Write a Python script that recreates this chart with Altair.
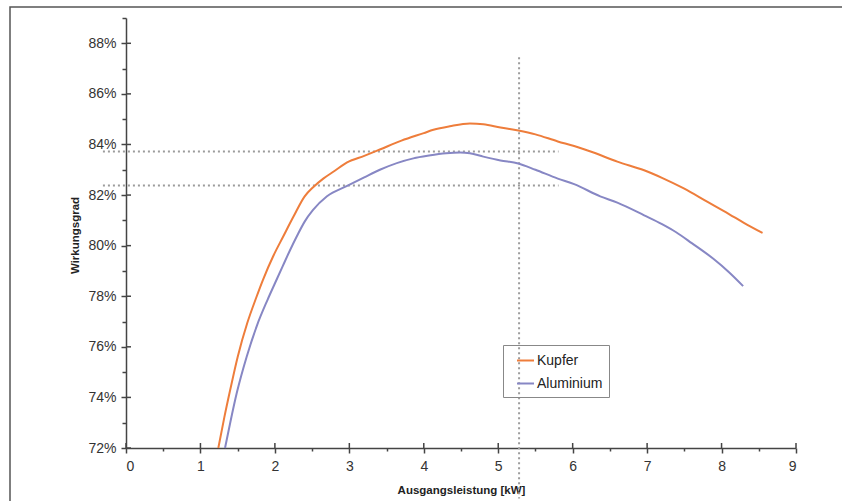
import altair as alt
import pandas as pd

# ---- data ----
kupfer_x = [1.24, 1.32, 1.40, 1.50, 1.63, 1.75, 1.84, 1.98, 2.11, 2.25, 2.40, 2.51, 2.65, 2.80,
            2.97, 3.20, 3.41, 3.70, 4.00, 4.13, 4.35, 4.62, 4.80, 5.03, 5.27, 5.50, 5.80, 6.02,
            6.28, 6.60, 6.96, 7.20, 7.50, 7.80, 8.10, 8.30, 8.55]
kupfer_y = [72.0, 73.2, 74.3, 75.6, 76.95, 77.95, 78.65, 79.6, 80.35, 81.15, 81.95, 82.3, 82.65, 82.95,
            83.29, 83.55, 83.80, 84.15, 84.45, 84.58, 84.72, 84.83, 84.80, 84.67, 84.55, 84.40, 84.12, 83.94,
            83.68, 83.32, 82.98, 82.68, 82.25, 81.75, 81.25, 80.90, 80.50]

alu_x = [1.33, 1.40, 1.49, 1.62, 1.76, 1.90, 2.03, 2.11, 2.20, 2.30, 2.40, 2.51, 2.70, 2.97,
         3.20, 3.41, 3.86, 4.07, 4.30, 4.49, 4.62, 4.80, 5.03, 5.27, 5.50, 5.80, 6.02, 6.37,
         6.60, 6.96, 7.20, 7.39, 7.60, 7.89, 8.10, 8.29]
alu_y = [72.0, 73.0, 74.2, 75.6, 76.85, 77.85, 78.7, 79.22, 79.8, 80.4, 80.95, 81.4, 81.95, 82.36,
         82.7, 83.0, 83.45, 83.56, 83.65, 83.68, 83.65, 83.52, 83.37, 83.25, 83.0, 82.65, 82.43, 81.95,
         81.7, 81.2, 80.85, 80.53, 80.1, 79.48, 78.95, 78.4]

series_names = ["Kupfer", "Aluminium"]
series_colors = ["#EE7D3B", "#8787C4"]

x_major = [0, 1, 2, 3, 4, 5, 6, 7, 8, 9]
x_all_ticks = [i * 0.5 for i in range(19)]
y_major = [72, 74, 76, 78, 80, 82, 84, 86, 88]
y_all_ticks = list(range(72, 90))

# dotted guide lines
vline_x = [5.28]
vline_y_top = [87.45]
vline_y_bottom = [70.0]
hline_y = [83.72, 82.38]
hline_x_start = [-0.31, -0.31]
hline_x_end = [5.81, 5.81]

# ---- tables ----
df = pd.concat([
    pd.DataFrame({"x": kupfer_x, "y": kupfer_y, "Serie": series_names[0]}),
    pd.DataFrame({"x": alu_x, "y": alu_y, "Serie": series_names[1]}),
], ignore_index=True)
df_v = pd.DataFrame({"x": vline_x, "y": vline_y_top, "y2": vline_y_bottom})
df_h = pd.DataFrame({"y": hline_y, "x": hline_x_start, "x2": hline_x_end})
df_xt = pd.DataFrame({"x": x_major})
df_yt = pd.DataFrame({"y": y_major})

FONT = "Liberation Sans"
AX = "#444444"
W, H = 670, 430
XT = "Ausgangsleistung [kW]"
YT = "Wirkungsgrad"

xs = alt.Scale(domain=[0, 9], nice=False, zero=False)
ys = alt.Scale(domain=[72, 89], nice=False, zero=False)

x_axis = alt.Axis(
    values=x_all_ticks,
    labelExpr="datum.value % 1 == 0 ? format(datum.value, 'd') : ''",
    tickSize={"condition": {"test": "datum.value % 1 != 0", "value": 3}, "value": 5},
    grid=False, domainColor=AX, domainWidth=1.5, tickColor=AX, tickWidth=1.5,
    labelFont=FONT, labelFontSize=14, labelColor="#333333", labelPadding=6,
    titleFont=FONT, titleFontSize=11.5, titleFontWeight="bold", titleColor="#222222",
    titleY=36, titleBaseline="top",
)
y_axis = alt.Axis(
    values=y_all_ticks,
    labelExpr="datum.value % 2 == 0 ? datum.value + '%' : ''",
    tickSize={"condition": {"test": "datum.value % 2 != 0", "value": 4}, "value": 5},
    grid=False, domainColor=AX, domainWidth=1.5, tickColor=AX, tickWidth=1.5,
    labelFont=FONT, labelFontSize=14, labelColor="#333333", labelPadding=5,
    titleFont=FONT, titleFontSize=11.5, titleFontWeight="bold", titleColor="#222222",
    titleX=-51, titleY=217, titleAngle=-90, titleBaseline="middle", titleAlign="center",
)


def X(field):
    return alt.X(field, scale=xs, axis=x_axis, title=XT)


def Y(field):
    return alt.Y(field, scale=ys, axis=y_axis, title=YT)


frame = alt.Chart(pd.DataFrame({"a": [0]})).mark_rect(
    fillOpacity=0, stroke="#555555", strokeWidth=1.5
).encode(x=alt.value(-116), x2=alt.value(760), y=alt.value(-11), y2=alt.value(520))

lines = alt.Chart(df).mark_line(strokeWidth=2, interpolate="monotone").encode(
    x=X("x:Q"),
    y=Y("y:Q"),
    color=alt.Color(
        "Serie:N",
        scale=alt.Scale(domain=series_names, range=series_colors),
        legend=alt.Legend(
            title=None, orient="none", legendX=377, legendY=327,
            strokeColor="#888888", padding=6, symbolType="stroke",
            symbolStrokeWidth=2, symbolSize=289, symbolOffset=7,
            labelFont=FONT, labelFontSize=14, labelColor="#222222",
            labelOffset=2, rowPadding=6,
            labelExpr="datum.label + '    '",
        ),
    ),
)

dot = dict(strokeDash=[2, 3], strokeWidth=2, color="#9c9c9c")
vrule = alt.Chart(df_v).mark_rule(**dot).encode(x=X("x:Q"), y=Y("y:Q"), y2="y2:Q")
hrule = alt.Chart(df_h).mark_rule(**dot).encode(x=X("x:Q"), x2="x2:Q", y=Y("y:Q"))

xt = alt.Chart(df_xt).mark_rule(color=AX, strokeWidth=1.5).encode(
    x=X("x:Q"), y=alt.value(H - 5), y2=alt.value(H))
yt = alt.Chart(df_yt).mark_rule(color=AX, strokeWidth=1.5).encode(
    y=Y("y:Q"), x=alt.value(0), x2=alt.value(5))

chart = alt.layer(frame, hrule, vrule, lines, xt, yt).properties(
    width=W, height=H,
    autosize=alt.AutoSizeParams(type="none"),
    padding={"left": 126, "top": 18, "right": 46, "bottom": 53},
    background="white",
).configure_view(stroke=None)

chart.save("out.html", embed_options={"renderer": "svg", "actions": False})
